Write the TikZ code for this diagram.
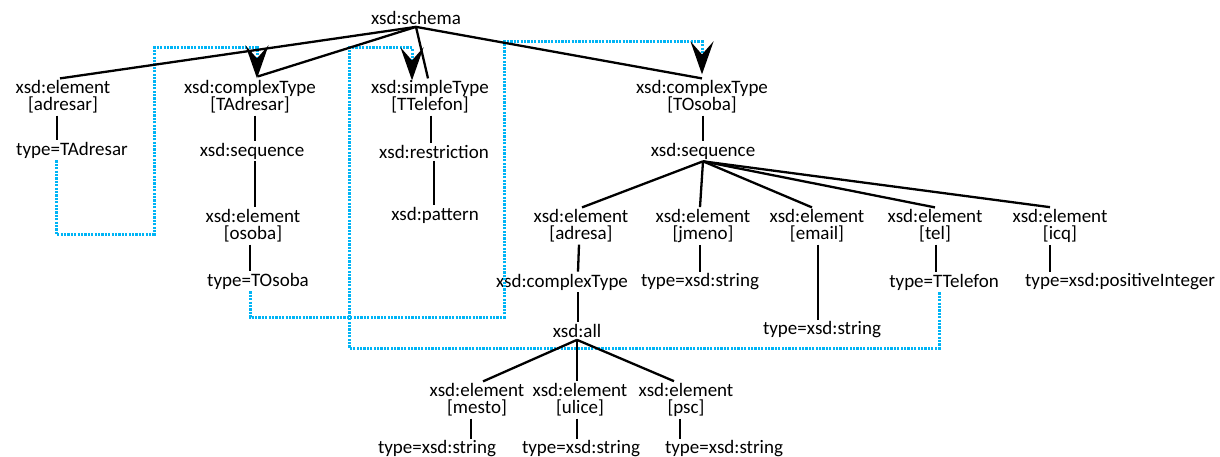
\documentclass[tikz,border=0pt]{standalone}
\usepackage{fontspec}
\setmainfont{Carlito}
\usetikzlibrary{arrows.meta}
\definecolor{refblue}{RGB}{0,180,245}

\begin{document}
\begin{tikzpicture}[x=1pt,y=-1pt,
  lbl/.style={inner sep=2pt, align=center, font=\fontsize{19}{17}\selectfont},
  tree/.style={line width=2.3pt, black},
  refline/.style={refblue, line width=3pt, dash pattern=on 2.2pt off 1.2pt,
    -{Stealth[black, length=33pt, width=23pt, inset=13pt]}},
]
\useasboundingbox (0,0) rectangle (1220,457);

% ---- nodes ----
\node[lbl] (schema) at (416,18) {xsd:schema};

\node[lbl] (elAdr) at (63,97) {xsd:element\\{}[adresar]};
\node[lbl] (tAdr) at (72,150) {type=TAdresar};

\node[lbl] (ctA) at (250,97) {xsd:complexType\\{}[TAdresar]};
\node[lbl] (seqA) at (252,151) {xsd:sequence};
\node[lbl] (elOs) at (253,226) {xsd:element\\{}[osoba]};
\node[lbl] (tOs) at (258,281) {type=TOsoba};

\node[lbl] (stT) at (430,97) {xsd:simpleType\\{}[TTelefon]};
\node[lbl] (restr) at (434,152) {xsd:restriction};
\node[lbl] (patt) at (435,215) {xsd:pattern};

\node[lbl] (ctO) at (702,97) {xsd:complexType\\{}[TOsoba]};
\node[lbl] (seqO) at (703,151) {xsd:sequence};
\node[lbl] (elAdresa) at (581,226) {xsd:element\\{}[adresa]};
\node[lbl] (elJm) at (703,226) {xsd:element\\{}[jmeno]};
\node[lbl] (elEm) at (817,226) {xsd:element\\{}[email]};
\node[lbl] (elTel) at (935,226) {xsd:element\\{}[tel]};
\node[lbl] (elIcq) at (1060,226) {xsd:element\\{}[icq]};
\node[lbl] (ct2) at (562,282) {xsd:complexType};
\node[lbl] (tJm) at (700,282) {type=xsd:string};
\node[lbl] (tEm) at (822,330) {type=xsd:string};
\node[lbl] (tTel) at (944,282) {type=TTelefon};
\node[lbl] (tIcq) at (1120,282) {type=xsd:positiveInteger};
\node[lbl] (all) at (577,331) {xsd:all};
\node[lbl] (elMe) at (477,400) {xsd:element\\{}[mesto]};
\node[lbl] (elUl) at (580,400) {xsd:element\\{}[ulice]};
\node[lbl] (elPsc) at (686,400) {xsd:element\\{}[psc]};
\node[lbl] (tMe) at (437,449) {type=xsd:string};
\node[lbl] (tUl) at (581,449) {type=xsd:string};
\node[lbl] (tPsc) at (724,449) {type=xsd:string};

% ---- type references (dotted) ----
\coordinate (r1a) at (56,234);
\coordinate (r1b) at (154,234);
\coordinate (r1c) at (154,48);
\coordinate (r1d) at (257,48);
\draw[refline] ([xshift=-16pt]tAdr.south) -- (r1a) -- (r1b) -- (r1c) -- (r1d)
  -- ([xshift=7pt]ctA.north);

\coordinate (r2a) at (250,317);
\coordinate (r2b) at (504,317);
\coordinate (r2c) at (504,42);
\coordinate (r2d) at (702,42);
\draw[refline] ([xshift=-8pt]tOs.south) -- (r2a) -- (r2b) -- (r2c) -- (r2d)
  -- ([yshift=4pt]ctO.north);

\coordinate (r3a) at (939,348);
\coordinate (r3b) at (349,348);
\coordinate (r3c) at (349,48);
\coordinate (r3d) at (412,48);
\draw[refline] ([xshift=-5pt]tTel.south) -- (r3a) -- (r3b) -- (r3c) -- (r3d)
  -- ([xshift=-18pt,yshift=-2pt]stT.north);

% ---- tree edges ----
\draw[tree] (schema.south) -- ([xshift=-3pt]elAdr.north);
\draw[tree] (schema.south) -- ([xshift=8pt,yshift=2pt]ctA.north);
\draw[tree] (schema.south) -- ([xshift=-2pt]stT.north);
\draw[tree] (schema.south) -- (ctO.north);

\draw[tree] ([xshift=-6pt]elAdr.south) -- ([xshift=-15pt]tAdr.north);
\draw[tree] ([xshift=5pt]ctA.south) -- ([xshift=3pt]seqA.north);
\draw[tree] ([xshift=3pt]seqA.south) -- ([xshift=2pt]elOs.north);
\draw[tree] ([xshift=-3pt]elOs.south) -- ([xshift=-8pt]tOs.north);
\draw[tree] ([xshift=1pt]stT.south) -- ([xshift=-3pt]restr.north);
\draw[tree] (restr.south) -- ([xshift=-1pt]patt.north);
\draw[tree] ([xshift=1pt]ctO.south) -- (seqO.north);

\draw[tree] (seqO.south) -- ([xshift=1pt]elAdresa.north);
\draw[tree] (seqO.south) -- ([xshift=-3pt]elJm.north);
\draw[tree] (seqO.south) -- ([xshift=-5pt]elEm.north);
\draw[tree] (seqO.south) -- (elTel.north);
\draw[tree] (seqO.south) -- ([xshift=-10pt]elIcq.north);

\draw[tree] ([xshift=-2pt]elAdresa.south) -- ([xshift=16pt]ct2.north);
\draw[tree] ([xshift=16pt]ct2.south) -- ([xshift=1pt]all.north);
\draw[tree] ([xshift=-3pt]elJm.south) -- (tJm.north);
\draw[tree] ([xshift=1pt]elEm.south) -- ([xshift=-4pt]tEm.north);
\draw[tree] ([xshift=1pt]elTel.south) -- ([xshift=-8pt]tTel.north);
\draw[tree] ([xshift=-10pt]elIcq.south) -- ([xshift=-70pt]tIcq.north);

\draw[tree] (all.south) -- ([xshift=6pt]elMe.north);
\draw[tree] (all.south) -- ([xshift=-3pt]elUl.north);
\draw[tree] (all.south) -- ([xshift=-12pt]elPsc.north);

\draw[tree] ([xshift=-6pt]elMe.south) -- ([xshift=34pt]tMe.north);
\draw[tree] ([xshift=-3pt]elUl.south) -- ([xshift=-4pt]tUl.north);
\draw[tree] ([xshift=-6pt]elPsc.south) -- ([xshift=-44pt]tPsc.north);
\end{tikzpicture}
\end{document}
